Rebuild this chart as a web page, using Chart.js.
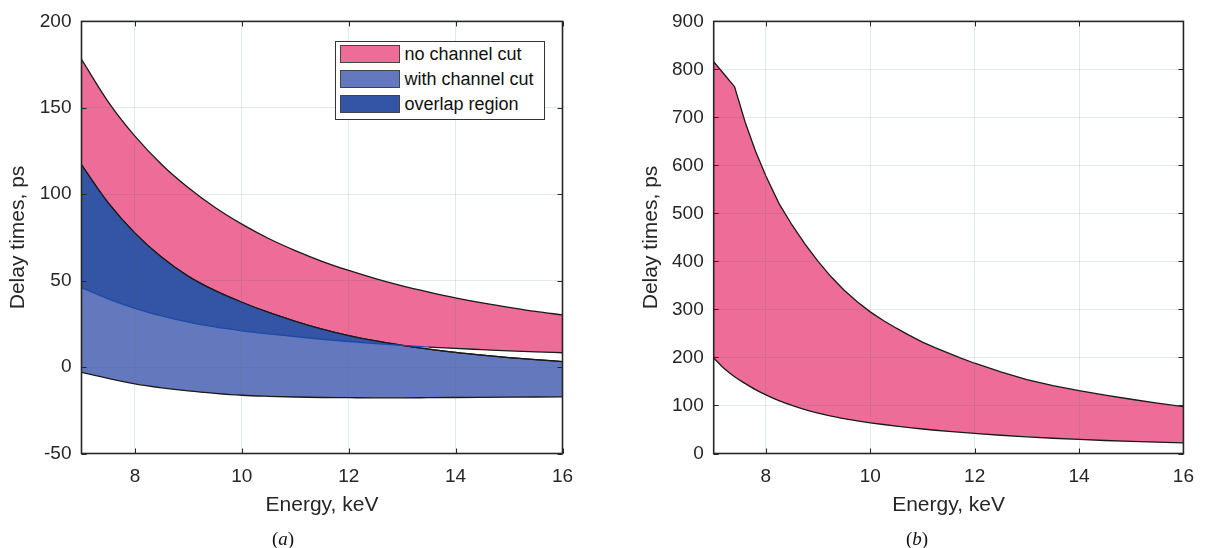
<!DOCTYPE html>
<html>
<head>
<meta charset="utf-8">
<script src="https://cdn.jsdelivr.net/npm/chart.js@4.4.0/dist/chart.umd.min.js"></script>
<style>
  body { margin: 0; width: 1206px; height: 548px; background: #fff; position: relative; overflow: hidden; font-family: 'Liberation Sans', Arial, sans-serif; }
  canvas { position: absolute; top: 0; }
  #chartA { left: 0; }
  #chartB { left: 603px; }
  .cap { position: absolute; top: 528px; font-family: 'Liberation Serif', serif; font-size: 19px; color: #111; transform: translateX(-50%); }
  #legendA { position: absolute; left: 335px; top: 41px; width: 204px; height: 77px; border: 1.5px solid #333; background: #fff; padding-left: 3.5px; box-sizing: content-box; }
  #legendA .row { display: flex; align-items: center; height: 24.9px; font-size: 18px; color: #111; white-space: nowrap; }
  #legendA .sw { display: inline-block; width: 60px; height: 18px; border: 1px solid #444; box-sizing: border-box; margin-right: 5px; }
</style>
</head>
<body>
<canvas id="chartA" width="603" height="548"></canvas>
<canvas id="chartB" width="603" height="548"></canvas>
<div id="legendA"></div>
<div class="cap" style="left:283px">(<i>a</i>)</div>
<div class="cap" style="left:917px">(<i>b</i>)</div>
<script>
// ---- panel (a) data ----
const energyA = [7, 7.5, 8, 8.5, 9, 9.5, 10, 10.5, 11, 11.5, 12, 12.5, 13, 13.5, 14, 14.5, 15, 15.5, 16];
const noCutUpper = [178, 153.5, 133.6, 117.2, 103.7, 92.3, 82.7, 74.4, 67.4, 61.2, 55.9, 51.2, 47, 43.4, 40.1, 37.2, 34.6, 32.2, 30.2];
const noCutLower = [46, 39.5, 34, 29.6, 26, 23.2, 21, 19.2, 17.6, 16.1, 14.8, 13.6, 12.5, 11.6, 10.8, 10.1, 9.4, 8.8, 8.3];
const cutUpper = [117, 95, 77.5, 63.5, 52.5, 44.2, 37.5, 31.6, 26.5, 22, 18.2, 15.1, 12.6, 10.4, 8.5, 6.9, 5.5, 4.3, 3.2];
const cutLower = [-3, -6.5, -9.7, -12, -13.8, -15.2, -16.3, -16.9, -17.3, -17.6, -17.7, -17.8, -17.8, -17.7, -17.6, -17.5, -17.4, -17.3, -17.2];

// ---- panel (b) data ----
const energyB = [7, 7.2, 7.4, 7.6, 7.8, 8, 8.25, 8.5, 8.75, 9, 9.25, 9.5, 9.75, 10, 10.25, 10.5, 10.75, 11, 11.25, 11.5, 11.75, 12, 12.5, 13, 13.5, 14, 14.5, 15, 15.5, 16];
const delayUpperB = [816, 790, 764, 691, 630, 578, 521, 476, 436, 400, 368, 340, 316, 295, 277, 261, 246, 232, 220, 209, 198, 188, 170, 154, 141.5, 131, 121.5, 113, 105, 97.5];
const delayLowerB = [199, 177, 160, 146, 133, 122, 110, 100, 91.5, 84, 78, 72.5, 68, 64, 60.4, 57, 53.9, 51, 48.4, 46, 43.8, 41.8, 38, 34.7, 31.8, 29.3, 27.1, 25.2, 23.6, 22.3];

const legendLabels = ['no channel cut', 'with channel cut', 'overlap region'];
const PINK = '#ee6c98';
const LIGHT_BLUE = '#6478bd';
const DARK_BLUE = '#3454a5';
const LINE = '#1a1a1a';
const TEXT = '#262626';

const pts = (xs, ys) => xs.map((x, i) => ({ x: x, y: ys[i] }));

// box round the plot with inward ticks, like the original
const framePlugin = {
    id: 'frame',
    afterDraw(chart) {
        const { ctx, chartArea: a, scales } = chart;
        const x = scales.x, y = scales.y;
        ctx.save();
        ctx.strokeStyle = TEXT;
        ctx.lineWidth = 1;
        ctx.beginPath();
        x.ticks.forEach(t => {
            const px = Math.round(x.getPixelForValue(t.value)) + 0.5;
            ctx.moveTo(px, a.bottom); ctx.lineTo(px, a.bottom - 5);
            ctx.moveTo(px, a.top); ctx.lineTo(px, a.top + 5);
        });
        y.ticks.forEach(t => {
            const py = Math.round(y.getPixelForValue(t.value)) + 0.5;
            ctx.moveTo(a.left, py); ctx.lineTo(a.left + 5, py);
            ctx.moveTo(a.right, py); ctx.lineTo(a.right - 5, py);
        });
        ctx.stroke();
        ctx.lineWidth = 1.6;
        ctx.strokeRect(a.left, a.top, a.right - a.left, a.bottom - a.top);
        ctx.restore();
    }
};

function axes(yMin, yMax, yStep, yWidth) {
    const grid = { color: 'rgba(60,110,120,0.15)', z: 1, drawTicks: false, lineWidth: 1 };
    return {
        x: {
            type: 'linear', min: 7, max: 16,
            afterBuildTicks: s => { s.ticks = s.ticks.filter(t => t.value % 2 === 0); },
            afterFit: s => { s.height = 74.5; },
            grid: grid,
            border: { display: false },
            ticks: { stepSize: 2, padding: 12, color: TEXT, font: { size: 19, family: 'Liberation Sans' } },
            title: { display: true, text: 'Energy, keV', color: TEXT, padding: { top: 0, bottom: 10 }, font: { size: 21, family: 'Liberation Sans' } }
        },
        y: {
            type: 'linear', min: yMin, max: yMax,
            afterFit: s => { s.width = yWidth; },
            grid: grid,
            border: { display: false },
            ticks: { stepSize: yStep, padding: 10, color: TEXT, font: { size: 19, family: 'Liberation Sans' } },
            title: { display: true, text: 'Delay times, ps', color: TEXT, padding: { top: 6, bottom: 0 }, font: { size: 21, family: 'Liberation Sans' } }
        }
    };
}

const common = {
    responsive: false,
    animation: false,
    elements: { point: { radius: 0 }, line: { cubicInterpolationMode: 'monotone', borderWidth: 1.3 } },
    plugins: { legend: { display: false }, tooltip: { enabled: false } }
};

new Chart(document.getElementById('chartA'), {
    type: 'line',
    data: {
        datasets: [
            { label: legendLabels[0], data: pts(energyA, noCutUpper), borderColor: LINE, backgroundColor: PINK, fill: { target: 1 }, order: 6 },
            { label: 'no channel cut lower', data: pts(energyA, noCutLower), borderWidth: 0, borderColor: 'rgba(0,0,0,0)', fill: false, order: 7 },
            { label: legendLabels[1], data: pts(energyA, cutUpper), borderColor: LINE, backgroundColor: LIGHT_BLUE, fill: { target: 3 }, order: 5 },
            { label: 'with channel cut lower', data: pts(energyA, cutLower), borderColor: LINE, fill: false, order: 2 },
            { label: legendLabels[2], data: pts(energyA, cutUpper), borderColor: LINE, backgroundColor: DARK_BLUE, fill: { target: 1, above: DARK_BLUE, below: 'rgba(0,0,0,0)' }, order: 3 },
            {
                label: 'no channel cut lower edge', data: pts(energyA, noCutLower), borderColor: LINE, fill: false, order: 1,
                segment: { borderColor: c => cutUpper[c.p0DataIndex] > noCutLower[c.p0DataIndex] ? '#1c4aa6' : LINE }
            }
        ]
    },
    options: Object.assign({}, common, {
        layout: { padding: { top: 21, right: 40.5, bottom: 20, left: 0 } },
        scales: axes(-50, 200, 50, 81.5)
    }),
    plugins: [framePlugin]
});

new Chart(document.getElementById('chartB'), {
    type: 'line',
    data: {
        datasets: [
            { label: legendLabels[0], data: pts(energyB, delayUpperB), borderColor: LINE, backgroundColor: PINK, fill: { target: 1 }, order: 2, cubicInterpolationMode: 'default', tension: 0 },
            { label: 'lower', data: pts(energyB, delayLowerB), borderColor: LINE, fill: false, order: 1 }
        ]
    },
    options: Object.assign({}, common, {
        layout: { padding: { top: 21, right: 12, bottom: 20, left: 30 } },
        scales: axes(0, 900, 100, 80.7)
    }),
    plugins: [framePlugin]
});

// legend of panel (a), drawn inside the plot box
const legendColors = [PINK, LIGHT_BLUE, DARK_BLUE];
document.getElementById('legendA').innerHTML = legendLabels.map((t, i) =>
    '<div class="row"><span class="sw" style="background:' + legendColors[i] + '"></span>' + t + '</div>'
).join('');
</script>
</body>
</html>
